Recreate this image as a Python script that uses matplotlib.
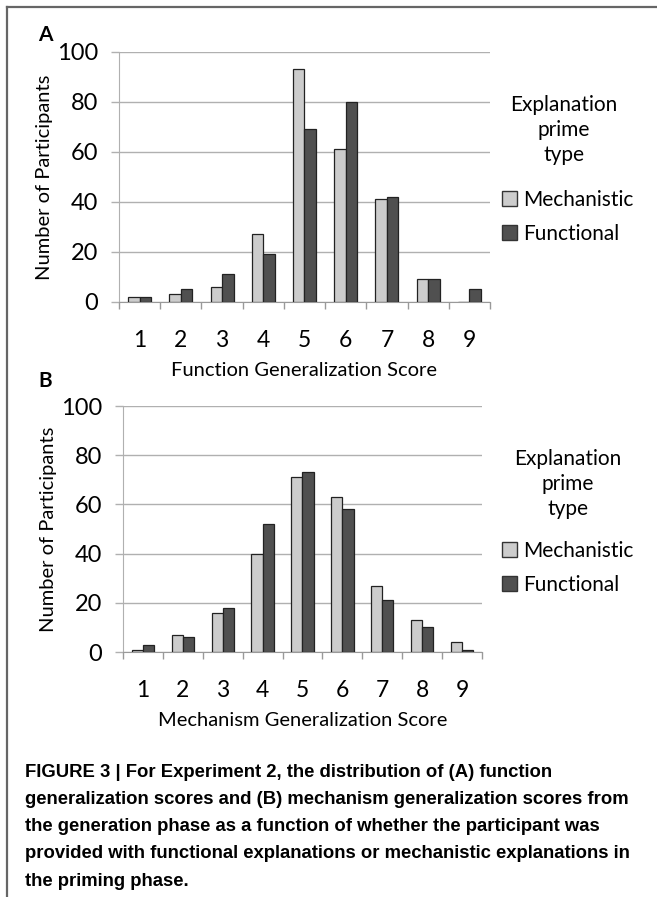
import matplotlib
matplotlib.use("Agg")
import matplotlib.pyplot as plt
from matplotlib.patches import Patch
from matplotlib.lines import Line2D
import numpy as np

scores = [1, 2, 3, 4, 5, 6, 7, 8, 9]
yticks = [0, 20, 40, 60, 80, 100]
series_names = ["Mechanistic", "Functional"]
colors = ["#cccccc", "#505050"]

funcA_mech = [2, 3, 6, 27, 93, 61, 41, 9, 0]
funcA_func = [2, 5, 11, 19, 69, 80, 42, 9, 5]
mechB_mech = [1, 7, 16, 40, 71, 63, 27, 13, 4]
mechB_func = [3, 6, 18, 52, 73, 58, 21, 10, 1]

xlabels = ["Function Generalization Score", "Mechanism Generalization Score"]
panel_letters = ["A", "B"]
legend_title = "Explanation\nprime\ntype"
caption = ("FIGURE 3 | For Experiment 2, the distribution of (A) function\n"
           "generalization scores and (B) mechanism generalization scores from\n"
           "the generation phase as a function of whether the participant was\n"
           "provided with functional explanations or mechanistic explanations in\n"
           "the priming phase.")

W, H = 657, 897
fig = plt.figure(figsize=(W / 100, H / 100), dpi=100)
plt.rcParams['font.family'] = ['Lato', 'DejaVu Sans']

def fx(px):
    return px / W

def fy(py):
    return 1 - py / H

# border lines
fig.add_artist(Line2D([fx(7), fx(657)], [fy(7), fy(7)], color="#666666", lw=1.6))
fig.add_artist(Line2D([fx(7), fx(7)], [fy(7), fy(897)], color="#666666", lw=1.6))

panels = [
    dict(box=(119, 490, 52, 302), mech=funcA_mech, func=funcA_func,
         leg_y=(108, 207, 246), leg_x=564, letter_xy=(45, 35)),
    dict(box=(123, 482, 406, 652), mech=mechB_mech, func=mechB_func,
         leg_y=(462, 558, 597), leg_x=568, letter_xy=(45, 381)),
]

bw = 0.28
x = np.array(scores)
for i, p in enumerate(panels):
    l, r, t, b = p["box"]
    ax = fig.add_axes([fx(l), fy(b), fx(r) - fx(l), fy(t) - fy(b)])
    ax.bar(x - bw / 2, p["mech"], width=bw, color=colors[0], edgecolor="#222222",
           linewidth=0.9, zorder=3)
    ax.bar(x + bw / 2, p["func"], width=bw, color=colors[1], edgecolor="#222222",
           linewidth=0.9, zorder=3)
    ax.set_xlim(0.5, 9.5)
    ax.set_ylim(0, 100)
    ax.set_yticks(yticks)
    ax.set_xticks(scores)
    ax.set_xticks(np.arange(0.5, 10, 1), minor=True)
    ax.tick_params(axis="x", which="major", length=0, labelsize=16.5, pad=20)
    ax.tick_params(axis="x", which="minor", length=5, color="#999999", width=1)
    ax.tick_params(axis="y", length=6, color="#b0b0b0", width=1, labelsize=17, pad=9)
    ax.grid(axis="y", color="#b0b0b0", linewidth=1, zorder=0)
    for s in ["top", "right"]:
        ax.spines[s].set_visible(False)
    ax.spines["left"].set_color("#b0b0b0")
    ax.spines["bottom"].set_color("#999999")
    ax.set_xlabel(xlabels[i], fontsize=14.5, labelpad=8)
    ax.set_ylabel("Number of Participants", fontsize=14.5, labelpad=3)
    # panel letter
    lx, ly = p["letter_xy"]
    fig.text(fx(lx), fy(ly), panel_letters[i], fontsize=15, fontweight="bold",
             ha="center", va="center")
    # legend
    ty, my, fy_ = p["leg_y"]
    fig.text(fx(p["leg_x"]), fy(ty - 13), legend_title, fontsize=15,
             ha="center", va="top", linespacing=1.3)
    handles = [Patch(facecolor=colors[0], edgecolor="#333333", linewidth=1),
               Patch(facecolor=colors[1], edgecolor="#333333", linewidth=1)]
    leg = fig.legend(handles, series_names, loc="upper left",
                     bbox_to_anchor=(fx(502), fy(my - 17)), frameon=False,
                     fontsize=15, handlelength=0.7, handleheight=0.7,
                     handletextpad=0.3, labelspacing=0.65, borderaxespad=0,
                     borderpad=0)

fig.text(fx(25), fy(764), caption, fontsize=13.3, fontweight="bold",
         family=["Liberation Sans Narrow", "Liberation Sans", "DejaVu Sans"],
         ha="left", va="top", linespacing=1.78)

fig.savefig("out.png", dpi=100)
